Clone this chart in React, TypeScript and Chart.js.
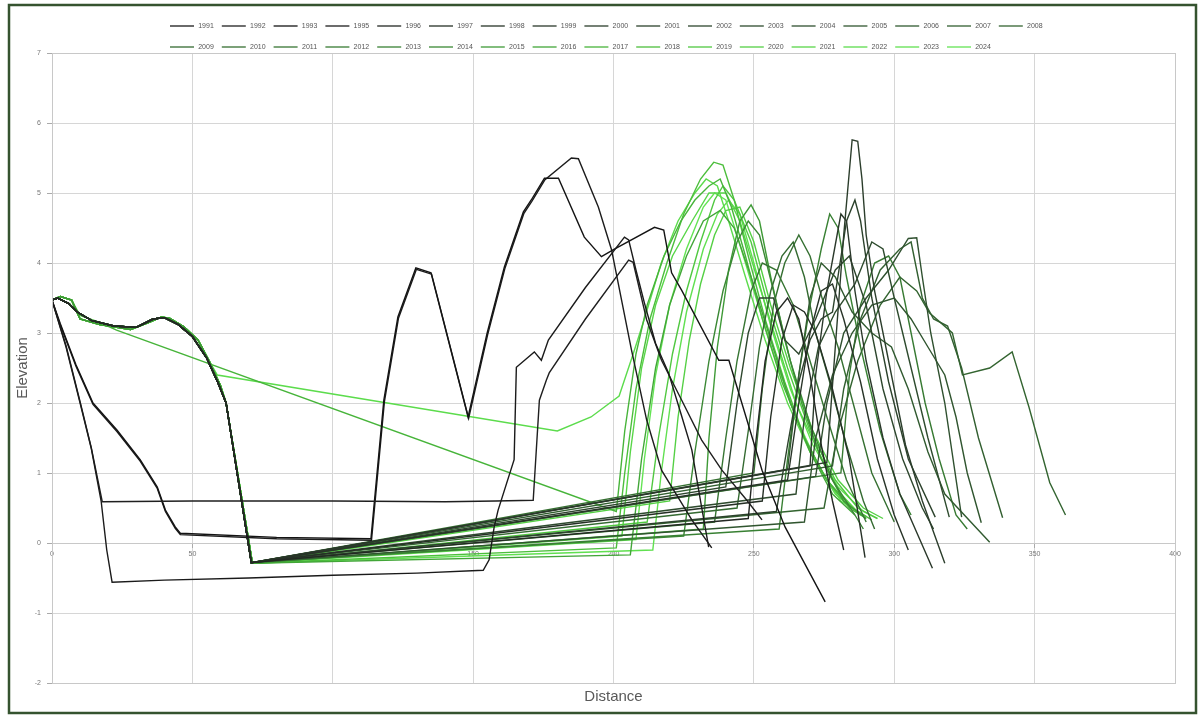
import { useEffect, useRef } from 'react';
import { Chart, registerables } from 'chart.js';

Chart.register(...registerables);

// ---------------- DATA ----------------
const years = [
  '1991', '1992', '1993', '1995', '1996', '1997', '1998', '1999', '2000', '2001', '2002', '2003', '2004',
  '2005', '2006', '2007', '2008',
  '2009', '2010', '2011', '2012', '2013', '2014', '2015', '2016', '2017', '2018', '2019', '2020', '2021',
  '2022', '2023', '2024',
];

const lineColors = [
  '#1a1a1a', '#1f1f1f', '#141414', '#1c1c1c', '#232823', '#263026', '#283428', '#2a382a', '#2b3d2b',
  '#2c422c', '#2d462d', '#2e4b2e', '#2f502f', '#30552f', '#315a30', '#325f30', '#336430',
  '#346a31', '#356f31', '#367532', '#377a32', '#388033', '#3a8834', '#3e9a36', '#42a638', '#47b43a',
  '#4cbe3c', '#50c840', '#54d044', '#58d648', '#5cdc4c', '#60e050', '#64e454',
];

const s1991 = [[0, 3.47], [5, 2.8], [10, 2.0], [14, 1.35], [17.5, 0.6], [19.5, -0.1], [21.4, -0.56], [40, -0.53],
  [70, -0.5], [100, -0.46], [130, -0.43], [153.6, -0.39], [155.7, -0.24], [157.5, 0.23], [158.9, 0.47],
  [164.6, 1.19], [165.4, 2.51], [171.8, 2.73], [174.3, 2.61], [176.8, 2.9], [190, 3.65], [203.9, 4.37],
  [205.4, 4.33], [208, 3.9], [211, 3.43], [215, 2.85], [219.6, 2.43], [224, 1.85], [227.9, 1.33], [231, 0.6],
  [233.9, -0.06]];
const s1992 = [[0, 3.47], [5, 2.82], [10, 2.02], [14, 1.36], [17.9, 0.59], [50, 0.6], [100, 0.6], [140, 0.59],
  [158, 0.6], [171.4, 0.61], [173.6, 2.04], [176.1, 2.33], [177.1, 2.43], [190, 3.2], [205.4, 4.04], [207, 4.01],
  [211.8, 3.19], [217.1, 2.61], [224.3, 2.04], [231.4, 1.47], [238.6, 1.04], [247.5, 0.61], [252.9, 0.33]];
const s1993 = [[0, 3.47], [2.9, 3.14], [8.5, 2.55], [14.6, 2.0], [23.2, 1.61], [31.4, 1.19], [37.5, 0.8],
  [40.4, 0.47], [43.9, 0.23], [45.7, 0.14], [80, 0.08], [113.6, 0.06], [118.2, 2.04], [123.2, 3.23],
  [129.6, 3.93], [135, 3.86], [148.2, 1.8], [155, 3.0], [161.1, 3.94], [167.9, 4.73], [170.7, 4.9],
  [175.4, 5.21], [180.4, 5.21], [189.6, 4.37], [195.7, 4.09], [200, 4.19], [214.6, 4.51], [217.9, 4.47],
  [220.7, 3.86], [224.3, 3.61], [237.5, 2.61], [241.1, 2.61], [247.5, 1.76], [252.9, 1.04], [261.1, 0.23],
  [275.4, -0.84]];
const s1995 = [[0, 3.47], [2.9, 3.12], [8.5, 2.53], [14.6, 1.98], [23.2, 1.59], [31.4, 1.17], [37.5, 0.78],
  [40.4, 0.45], [43.9, 0.21], [45.7, 0.12], [80, 0.06], [113.8, 0.04], [118.4, 2.02], [123.4, 3.21],
  [129.8, 3.91], [135.2, 3.84], [148.4, 1.78], [155.2, 2.98], [161.3, 3.92], [168.1, 4.71], [170.9, 4.88],
  [175.6, 5.19], [185, 5.5], [187.5, 5.49], [194.6, 4.8], [199.3, 4.19], [206.4, 2.76], [211.8, 1.76],
  [217.1, 1.04], [227.9, 0.33], [235, -0.07]];

const benchDark = [[0, 3.47], [2, 3.5], [6, 3.42], [9, 3.3], [14, 3.18], [22, 3.1], [30, 3.08], [36, 3.2],
  [40, 3.22], [45, 3.12], [50, 2.95], [55, 2.65], [59, 2.3], [62, 2.0], [71, -0.28]];
const benchBright = [[0, 3.47], [3, 3.52], [7, 3.47], [10, 3.2], [17, 3.12], [28, 3.05], [35, 3.16],
  [39, 3.23], [42, 3.21], [47, 3.09], [52, 2.9], [56, 2.6], [60, 2.25], [62, 2.0], [71.4, -0.29]];

const r1996 = [[248, 0.35], [250, 1.2], [254, 2.6], [258, 3.3], [262, 3.5], [266, 3.2], [270, 2.4], [274, 1.4], [278, 0.6], [282, -0.1]];
const r1997 = [[253, 0.6], [256, 1.8], [260, 2.9], [264, 3.4], [268, 3.3], [272, 3.0], [278, 2.2], [284, 1.2], [289.6, -0.21]];
const r1998 = [[262, 0.9], [266, 2.0], [270, 3.0], [274, 3.6], [278, 3.7], [282, 3.2], [288, 2.3], [294, 1.2], [300, 0.4], [305, -0.1]];
const r1999 = [[270, 1.1], [272, 2.4], [276, 3.6], [281, 4.7], [283, 4.6], [286, 3.6], [290, 2.6], [296, 1.5], [302, 0.7], [313.6, -0.36]];
const r2000 = [[276, 1.15], [279, 2.8], [282, 4.4], [285, 5.76], [287, 5.74], [288.5, 5.2], [290, 4.4], [293, 3.6], [298, 2.6], [304, 1.4], [310, 0.6], [318, -0.29]];
const r2001 = [[258, 0.45], [262, 1.4], [266, 2.3], [270, 2.9], [274, 3.2], [278, 3.3], [283, 4.6], [286, 4.9], [288, 4.6], [292, 3.5], [298, 2.3], [305, 1.2], [314.6, 0.37]];
const r2002 = [[240, 0.8], [244, 2.0], [248, 3.0], [252, 3.5], [257, 3.5], [261, 2.9], [266, 2.7], [272, 3.2], [279, 3.9], [284, 4.1], [290, 3.4], [296, 2.2], [303, 1.2], [310, 0.5], [314, 0.2]];
const r2003 = [[265, 0.7], [268, 1.8], [273, 2.8], [279, 3.3], [286, 3.7], [292, 4.3], [296, 4.2], [300, 3.5], [306, 2.5], [312, 1.5], [319.6, 0.37]];
const r2004 = [[272, 0.95], [276, 2.0], [282, 3.0], [290, 3.5], [298, 3.9], [305, 4.35], [308, 4.36], [310, 3.8], [313, 3.0], [318, 2.0], [324, 0.37]];
const r2005 = [[268, 0.3], [272, 1.5], [278, 2.4], [285, 3.0], [292, 3.4], [300, 3.5], [306, 3.2], [312, 2.8], [318, 2.4], [322, 1.8], [326, 1.0], [331, 0.29]];
const r2006 = [[262, 1.05], [266, 2.4], [270, 3.5], [274, 4.0], [279, 3.8], [285, 3.3], [292, 3.0], [299, 2.8], [305, 2.2], [312, 1.3], [318, 0.7], [334, 0.01]];
const r2007 = [[278, 1.1], [282, 2.2], [288, 3.2], [295, 3.9], [302, 4.2], [306, 4.3], [310, 3.5], [314, 3.2], [319, 3.1], [324, 2.5], [330, 1.5], [338.6, 0.36]];
const r2008 = [[275, 0.5], [280, 1.6], [287, 2.6], [295, 3.4], [302, 3.8], [308, 3.6], [312.5, 3.29], [320.7, 3.0], [324.3, 2.4], [334, 2.5], [342, 2.73], [348, 1.94], [355.4, 0.86], [361, 0.4]];
const r2009 = [[244, 0.5], [248, 1.6], [252, 2.8], [256, 3.6], [260, 4.1], [264, 4.3], [268, 3.8], [272, 3.0], [277, 2.3], [283, 1.4], [289, 0.6], [293, 0.2]];
const r2010 = [[250, 1.0], [253, 2.2], [257, 3.4], [261, 4.0], [266, 4.4], [270, 4.1], [275, 3.4], [280, 2.8], [286, 1.9], [292, 1.0], [300, 0.3]];
const r2011 = [[236, 0.3], [240, 1.5], [244, 2.6], [249, 3.6], [253, 4.0], [258, 3.9], [264, 3.4], [270, 2.6], [276, 1.8], [283, 0.9], [290, 0.3]];
const r2012 = [[281, 1.0], [284, 2.4], [288, 3.4], [293, 4.0], [298, 4.1], [302, 3.8], [306, 3.0], [311, 2.0], [316, 1.2], [322, 0.4], [326, 0.2]];
const r2013 = [[259, 0.2], [262, 1.2], [266, 2.4], [270, 3.4], [274, 4.2], [277, 4.7], [280, 4.5], [283, 3.8], [288, 2.8], [295, 1.6], [302, 0.7], [306, 0.4]];
const r2014 = [[225, 0.1], [229, 1.3], [234, 2.6], [239, 3.6], [244, 4.3], [248, 4.6], [252, 4.4], [257, 3.6], [263, 2.6], [270, 1.7], [278, 0.9], [286, 0.4], [289, 0.2]];
const r2015 = [[232, 0.2], [234, 1.5], [237, 2.8], [241, 3.9], [245, 4.6], [249, 4.83], [252, 4.6], [256, 3.8], [261, 2.9], [267, 2.0], [274, 1.2], [282, 0.6], [290, 0.35]];
const r2016 = [[206, -0.17], [210, 1.2], [215, 2.5], [220, 3.4], [226, 4.1], [232, 4.6], [238, 4.75], [243, 4.5], [249, 3.8], [256, 2.9], [263, 2.0], [270, 1.3], [278, 0.7], [286, 0.4]];
const p2017 = [[0, 3.47], [3, 3.52], [7, 3.47], [10, 3.25], [17, 3.15], [23, 3.04], [201, 0.45], [204, 1.6], [208, 2.7], [212, 3.4], [218, 4.1], [224, 4.6], [229, 4.9], [234, 5.1], [238, 5.2], [242, 4.8], [247, 4.1], [253, 3.2], [260, 2.3], [268, 1.5], [276, 0.9], [284, 0.5], [290, 0.35]];
const r2018 = [[201, -0.07], [204, 1.0], [208, 2.2], [213, 3.2], [219, 4.0], [225, 4.7], [231, 5.2], [235.7, 5.44], [239, 5.4], [243, 4.9], [248, 4.1], [254, 3.2], [261, 2.3], [268, 1.5], [276, 0.9], [285, 0.5], [292, 0.33]];
const r2019 = [[212, 0.3], [216, 1.5], [221, 2.7], [226, 3.6], [231, 4.3], [236, 4.9], [239, 5.1], [243, 4.9], [249, 4.3], [255, 3.4], [262, 2.5], [270, 1.6], [279, 0.9], [287, 0.5], [294, 0.35]];
const r2020 = [[220, 0.6], [223, 1.8], [227, 2.9], [231, 3.7], [236, 4.4], [240, 4.75], [245, 4.8], [250, 4.3], [256, 3.4], [263, 2.5], [271, 1.6], [280, 0.9], [289, 0.5], [296, 0.35]];
const r2021 = [[203, 0.1], [206, 1.3], [210, 2.5], [215, 3.4], [221, 4.1], [228, 4.6], [234, 5.0], [240, 5.0], [245, 4.6], [251, 3.8], [258, 2.9], [265, 2.0], [273, 1.3], [281, 0.7], [288, 0.4]];
const p2022 = [[0, 3.47], [3, 3.52], [7, 3.47], [10, 3.2], [17, 3.12], [28, 3.05], [35, 3.16], [39, 3.23], [42, 3.21], [47, 3.09], [52, 2.9], [56, 2.6], [58.9, 2.4], [180, 1.6], [192, 1.8], [202, 2.1], [207, 2.7], [211, 3.2], [217, 4.0], [223, 4.6], [229, 5.0], [233, 5.2], [237, 5.1], [241, 4.6], [247, 3.8], [254, 2.9], [262, 2.0], [270, 1.3], [279, 0.7], [288, 0.4]];
const r2023 = [[214, -0.1], [217, 1.0], [221, 2.2], [226, 3.3], [232, 4.2], [237, 4.7], [241, 4.9], [245, 4.7], [250, 4.0], [256, 3.1], [263, 2.2], [271, 1.4], [280, 0.8], [289, 0.45], [294, 0.35]];
const r2024 = [[208, 0.05], [211, 1.2], [215, 2.4], [220, 3.4], [226, 4.2], [232, 4.8], [236, 5.0], [240, 4.9], [244, 4.4], [250, 3.6], [257, 2.7], [265, 1.8], [273, 1.1], [281, 0.6], [290, 0.38]];

const seriesPoints = [
  s1991, s1992, s1993, s1995,
  [...benchDark, ...r1996], [...benchDark, ...r1997], [...benchDark, ...r1998], [...benchDark, ...r1999],
  [...benchDark, ...r2000], [...benchDark, ...r2001], [...benchDark, ...r2002], [...benchDark, ...r2003],
  [...benchDark, ...r2004], [...benchDark, ...r2005], [...benchDark, ...r2006], [...benchDark, ...r2007],
  [...benchDark, ...r2008], [...benchDark, ...r2009], [...benchDark, ...r2010], [...benchDark, ...r2011],
  [...benchDark, ...r2012], [...benchDark, ...r2013], [...benchDark, ...r2014],
  [...benchBright, ...r2015], [...benchBright, ...r2016], p2017, [...benchBright, ...r2018],
  [...benchBright, ...r2019], [...benchBright, ...r2020], [...benchBright, ...r2021], p2022,
  [...benchBright, ...r2023], [...benchBright, ...r2024],
];

// ---------------- PLUGINS ----------------
const framePlugin = {
  id: 'excelFrame',
  beforeDraw(chart: any) {
    const { ctx, width, height } = chart;
    ctx.save();
    ctx.fillStyle = '#ffffff';
    ctx.fillRect(0, 0, width, height);
    ctx.restore();
  },
  afterDraw(chart: any) {
    const { ctx, chartArea } = chart;
    ctx.save();
    ctx.strokeStyle = '#c8c8c8';
    ctx.lineWidth = 1;
    ctx.strokeRect(chartArea.left + 0.5, chartArea.top + 0.5, chartArea.right - chartArea.left, chartArea.bottom - chartArea.top);
    ctx.strokeStyle = '#35532f';
    ctx.lineWidth = 2.5;
    ctx.strokeRect(9, 5, 1187, 708);
    // legend
    ctx.font = '7px "Liberation Sans", Arial, sans-serif';
    ctx.fillStyle = '#555555';
    ctx.textBaseline = 'middle';
    ctx.textAlign = 'center';
    chart.data.datasets.forEach((ds: any, i: number) => {
      const row = i < 17 ? 0 : 1;
      const col = row === 0 ? i : i - 17;
      const cx = 206 + 51.8 * col;
      const y = row === 0 ? 26 : 47;
      ctx.strokeStyle = ds.borderColor;
      ctx.lineWidth = 1.3;
      ctx.beginPath();
      ctx.moveTo(cx - 36, y);
      ctx.lineTo(cx - 12, y);
      ctx.stroke();
      ctx.fillText(ds.label, cx, y);
    });
    ctx.restore();
  },
};

export default function App() {
  const canvasRef = useRef<HTMLCanvasElement | null>(null);

  useEffect(() => {
    document.body.style.margin = '0';
    const canvas = canvasRef.current;
    if (!canvas) return;
    const tickFont = { family: '"Liberation Sans", Arial, sans-serif', size: 7 };
    const titleFont = { family: '"Liberation Sans", Arial, sans-serif', size: 15 };
    const chart = new Chart(canvas, {
      type: 'scatter',
      data: {
        datasets: seriesPoints.map((pts, i) => ({
          label: years[i],
          data: pts.map((p) => ({ x: p[0], y: p[1] })),
          showLine: true,
          borderColor: lineColors[i],
          backgroundColor: lineColors[i],
          borderWidth: 1.4,
          pointRadius: 0,
          pointHoverRadius: 0,
          tension: 0,
          xAxisID: 'x',
          yAxisID: 'y',
        })),
      },
      options: {
        responsive: false,
        animation: false,
        devicePixelRatio: 1,
        layout: { padding: { left: 10, top: 53, right: 28, bottom: 0 } },
        plugins: {
          legend: { display: false },
          tooltip: { enabled: false },
        },
        scales: {
          x: {
            type: 'linear',
            position: { y: 0 },
            min: 0,
            max: 400,
            ticks: { stepSize: 50, font: tickFont, color: '#777777', padding: 3, maxRotation: 0 },
            grid: { color: '#d6d6d6', tickLength: 4, tickColor: '#aaaaaa' },
            border: { display: true, color: '#c8c8c8' },
          },
          xTitle: {
            type: 'linear',
            position: 'bottom',
            min: 0,
            max: 400,
            ticks: { display: false },
            grid: { display: false, drawTicks: false },
            border: { display: false },
            title: { display: true, text: 'Distance', color: '#595959', font: titleFont, padding: { top: 5, bottom: 14 } },
          },
          y: {
            type: 'linear',
            position: 'left',
            min: -2,
            max: 7,
            ticks: { stepSize: 1, font: tickFont, color: '#777777', padding: 6 },
            grid: { color: '#d6d6d6', tickLength: 5, tickColor: '#aaaaaa' },
            border: { display: true, color: '#c8c8c8' },
            title: { display: true, text: 'Elevation', color: '#595959', font: titleFont, padding: 4 },
            afterFit: (scale: any) => { scale.width = 42; },
          },
        },
      },
      plugins: [framePlugin],
    } as any);
    return () => chart.destroy();
  }, []);

  return (
    <div style={{ width: 1203, height: 720 }}>
      <canvas ref={canvasRef} width={1203} height={720} style={{ display: 'block' }} />
    </div>
  );
}
